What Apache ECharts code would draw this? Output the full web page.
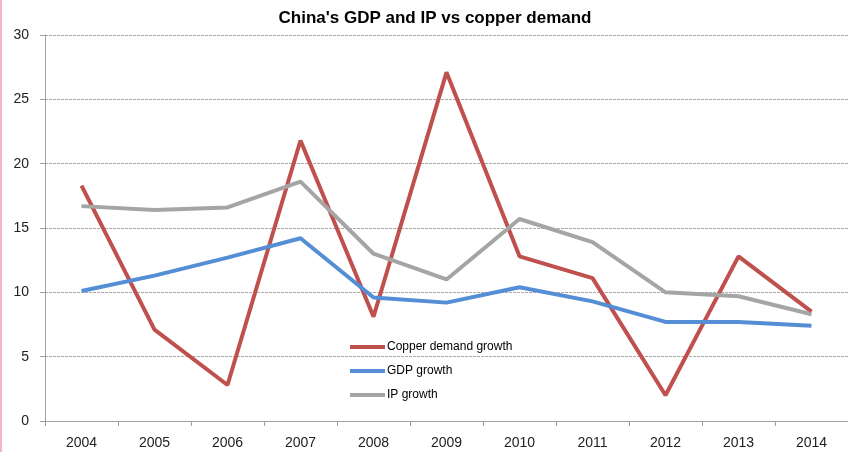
<!DOCTYPE html>
<html>
<head>
<meta charset="utf-8">
<script src="https://cdn.jsdelivr.net/npm/echarts@6/dist/echarts.min.js"></script>
<style>html,body{margin:0;padding:0;background:#fff}#c{width:848px;height:452px}</style>
</head>
<body>
<div id="c"></div>
<script>
var years = ['2004','2005','2006','2007','2008','2009','2010','2011','2012','2013','2014'];
var copperDemand = [18.3, 7.1, 2.8, 21.8, 8.1, 27.1, 12.8, 11.1, 2.0, 12.8, 8.5];
var gdpGrowth = [10.1, 11.3, 12.7, 14.2, 9.6, 9.2, 10.4, 9.3, 7.7, 7.7, 7.4];
var ipGrowth = [16.7, 16.4, 16.6, 18.6, 13.0, 11.0, 15.7, 13.9, 10.0, 9.7, 8.3];
var seriesNames = ['Copper demand growth', 'GDP growth', 'IP growth'];
var yTicks = {min: 0, max: 30, interval: 5};

var chart = echarts.init(document.getElementById('c'), null, {renderer: 'canvas'});
var font = 'Liberation Sans, Arial, sans-serif';
function line(name, data, color) {
  return {
    name: name, type: 'line', data: data, symbol: 'none',
    lineStyle: {color: color, width: 4},
    itemStyle: {color: color},
    animation: false
  };
}
chart.setOption({
  animation: false,
  title: {
    text: "China's GDP and IP vs copper demand",
    left: 430, textAlign: 'center', top: 5,
    textStyle: {fontFamily: font, fontSize: 17, fontWeight: 'bold', color: '#000'}
  },
  graphic: [{type: 'rect', left: 0, top: 0, shape: {width: 2, height: 452}, style: {fill: '#f4b6c0'}}],
  legend: {
    orient: 'vertical', left: 345, top: 336, itemWidth: 35, itemHeight: 4, itemGap: 12,
    icon: 'rect',
    textStyle: {fontFamily: font, fontSize: 12, color: '#000', padding: [0,0,0,-3]},
    data: seriesNames
  },
  grid: {left: 45, top: 35, width: 810, height: 386},
  xAxis: {
    type: 'category', data: years, boundaryGap: true,
    axisLine: {lineStyle: {color: '#a0a0a0', width: 1}},
    axisTick: {show: true, length: 5, lineStyle: {color: '#a0a0a0'}},
    axisLabel: {fontFamily: font, fontSize: 14, color: '#222', margin: 15}
  },
  yAxis: {
    type: 'value', min: yTicks.min, max: yTicks.max, interval: yTicks.interval,
    axisLine: {show: true, lineStyle: {color: '#a0a0a0', width: 1}},
    axisTick: {show: true, length: 5, lineStyle: {color: '#a0a0a0'}},
    axisLabel: {fontFamily: font, fontSize: 14, color: '#222', margin: 16},
    splitLine: {show: true, lineStyle: {color: '#aaa', type: [3, 1], width: 1}}
  },
  series: [
    line(seriesNames[0], copperDemand, '#c0504d'),
    line(seriesNames[1], gdpGrowth, '#558ed5'),
    line(seriesNames[2], ipGrowth, '#a5a5a5')
  ]
});
</script>
</body>
</html>
